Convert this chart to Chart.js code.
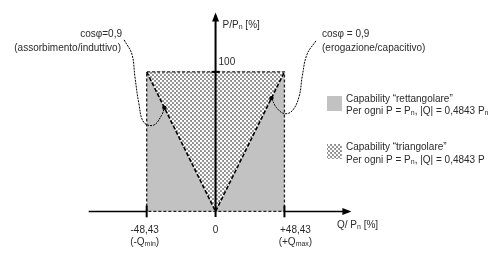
<!DOCTYPE html>
<html>
<head>
<meta charset="utf-8">
<script src="https://cdn.jsdelivr.net/npm/chart.js@4.4.1/dist/chart.umd.min.js"></script>
<style>
  html, body { margin: 0; padding: 0; background: #fff; }
  #wrap { width: 500px; height: 261px; position: relative; }
</style>
</head>
<body>
<div id="wrap"><canvas id="myChart"></canvas></div>
<script>
// reactive power limit at cos(phi) = 0.9, in % of Pn
const qLimit = 48.43;
const pMax = 100;

// capability areas (Q, P)
const rectTop = [[-qLimit, pMax], [qLimit, pMax]];
const rectPoints = [[-qLimit, 0], [-qLimit, pMax], [qLimit, pMax], [qLimit, 0], [-qLimit, 0]];
const triPoints = [[-qLimit, pMax], [0, 0], [qLimit, pMax]];

// leader curves from the cos(phi) labels down to the triangle edges
const leftCurve = [[-64.3, 122.9], [-58.8, 112.5], [-56.7, 96.5], [-54.0, 77.8], [-50.5, 63.9], [-43.6, 61.8], [-38.0, 68.8], [-36.0, 74.3]];
const rightCurve = [[70.6, 122.2], [64.3, 112.5], [60.9, 96.5], [58.8, 82.6], [54.0, 72.2], [48.4, 70.1], [42.9, 74.3], [39.3, 81.2]];
const markerPoints = [[-36.0, 74.3], [39.3, 81.2]];

// axes
const xAxisLeft = [[-89.2, 0], [-qLimit, 0]];
const xAxisRight = [[qLimit, 0], [93.4, 0]];
const yAxis = [[0, -4], [0, 140.3]];
const xTickValues = [-qLimit, 0, qLimit];
const xTickLabels = ['-48,43', '0', '+48,43'];
const xTickNotes = [[['(-Q', 0], ['min', 1], [')', 0]], null, [['(+Q', 0], ['max', 1], [')', 0]]];

// visible window of the plot
const xMin = -148.75, xMax = 197.18;
const yMin = -32.64, yMax = 148.61;

const ctx = document.getElementById('myChart').getContext('2d');

function crossHatch() {
  const c = document.createElement('canvas');
  c.width = 4; c.height = 4;
  const g = c.getContext('2d');
  g.fillStyle = '#8c8c8c';
  g.fillRect(0, 0, 4, 4);
  g.fillStyle = '#ffffff';
  [[1, 1], [3, 3]].forEach(p => {
    g.beginPath(); g.arc(p[0], p[1], 1.25, 0, Math.PI * 2); g.fill();
  });
  return g.createPattern(c, 'repeat');
}
const hatch = crossHatch();

const toXY = pts => pts.map(p => ({ x: p[0], y: p[1] }));
const line = (pts, opts) => Object.assign({
  data: toXY(pts), showLine: true, pointRadius: 0, borderColor: '#000',
  borderWidth: 1, fill: false, tension: 0
}, opts);

const datasets = [
  line(rectTop, { backgroundColor: '#c2c2c2', fill: 'origin', borderColor: 'rgba(0,0,0,0)', order: 10 }),
  line(triPoints, { backgroundColor: hatch, fill: { value: pMax }, borderDash: [4, 2], borderWidth: 1.6, order: 9 }),
  line(rectPoints, { borderDash: [3, 2], borderWidth: 1.3, borderColor: '#222', order: 4 }),
  line(xAxisLeft, { borderWidth: 1.5, order: 3 }),
  line(xAxisRight, { borderWidth: 1.5, order: 3 }),
  line(yAxis, { borderWidth: 2, order: 3 }),
  line([[-2.8, pMax], [2.8, pMax]], { borderWidth: 2, order: 3 }),
  line(leftCurve, { borderDash: [2, 1], tension: 0.4, order: 1 }),
  line(rightCurve, { borderDash: [2, 1], tension: 0.4, order: 1 }),
  { data: toXY(markerPoints), showLine: false, pointRadius: 2.2, backgroundColor: '#000', borderWidth: 0, order: 0 }
];
[-qLimit, qLimit].forEach(v => datasets.push(line([[v, -4.2], [v, 4.2]], { borderWidth: 2, order: 3 })));

const FONT = '"Liberation Sans", Arial, sans-serif';
function drawRuns(c, runs, x, y, align, size) {
  size = size || 10;
  const big = size + 'px ' + FONT, small = Math.round(size * 0.7) + 'px ' + FONT;
  let w = 0;
  runs.forEach(r => { c.font = r[1] ? small : big; w += c.measureText(r[0]).width; });
  let cx = align === 'right' ? x - w : align === 'center' ? x - w / 2 : x;
  runs.forEach(r => {
    c.font = r[1] ? small : big;
    c.fillText(r[0], cx, r[1] ? y + 2.5 : y);
    cx += c.measureText(r[0]).width;
  });
}

const annotations = {
  id: 'annotations',
  afterDatasetsDraw(chart) {
    const c = chart.ctx, xs = chart.scales.x, ys = chart.scales.y;
    c.save();
    // arrow heads
    c.fillStyle = '#000';
    const tx = xs.getPixelForValue(0), ty = ys.getPixelForValue(yAxis[1][1]);
    c.beginPath(); c.moveTo(tx, ty - 3); c.lineTo(tx - 3.5, ty + 6); c.lineTo(tx + 3.5, ty + 6); c.closePath(); c.fill();
    const ax = xs.getPixelForValue(xAxisRight[1][0]), ay = ys.getPixelForValue(0);
    c.beginPath(); c.moveTo(ax + 3, ay); c.lineTo(ax - 6, ay - 3.5); c.lineTo(ax - 6, ay + 3.5); c.closePath(); c.fill();

    c.fillStyle = '#2a2a2a';
    c.textBaseline = 'middle';
    // tick labels
    const shift = [-2, 0, 11];
    xTickValues.forEach((v, i) => {
      const px = xs.getPixelForValue(v) + shift[i];
      drawRuns(c, [[xTickLabels[i], 0]], px, 230, 'center');
      if (xTickNotes[i]) drawRuns(c, xTickNotes[i], px, 242, 'center');
    });
    drawRuns(c, [['100', 0]], tx + 3, 62, 'left');
    drawRuns(c, [['P/P', 0], ['n', 1], [' [%]', 0]], tx + 7, 25, 'left');
    drawRuns(c, [['Q/ P', 0], ['n', 1], [' [%]', 0]], 337, 225, 'left');

    // cos(phi) labels
    drawRuns(c, [['cosφ=0,9', 0]], 122, 34, 'right');
    drawRuns(c, [['(assorbimento/induttivo)', 0]], 121, 48, 'right');
    drawRuns(c, [['cosφ = 0,9', 0]], 322, 34, 'left');
    drawRuns(c, [['(erogazione/capacitivo)', 0]], 322, 48, 'left');

    // legend
    c.fillStyle = '#c2c2c2';
    c.fillRect(327, 96, 15, 15);
    c.fillStyle = hatch;
    c.fillRect(327, 144, 15, 15);
    c.fillStyle = '#2a2a2a';
    drawRuns(c, [['Capability “rettangolare”', 0]], 346, 99, 'left');
    drawRuns(c, [['Per ogni P = P', 0], ['n', 1], [', |Q| = 0,4843 P', 0], ['n', 1]], 346, 111, 'left');
    drawRuns(c, [['Capability “triangolare”', 0]], 346, 147, 'left');
    drawRuns(c, [['Per ogni P = P', 0], ['n', 1], [', |Q| = 0,4843 P', 0]], 346, 160, 'left');
    c.restore();
  }
};

const myChart = new Chart(ctx, {
  type: 'scatter',
  data: { datasets: datasets },
  options: {
    responsive: true,
    maintainAspectRatio: false,
    animation: false,
    layout: { padding: 0 },
    scales: {
      x: { type: 'linear', min: xMin, max: xMax, display: false },
      y: { type: 'linear', min: yMin, max: yMax, display: false }
    },
    plugins: {
      legend: { display: false },
      tooltip: { enabled: false }
    }
  },
  plugins: [annotations]
});
</script>
</body>
</html>
